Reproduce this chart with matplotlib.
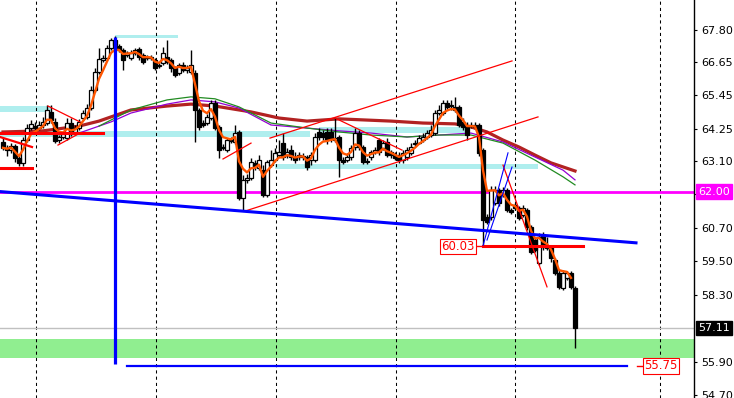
import matplotlib
matplotlib.use('Agg')
import matplotlib.pyplot as plt
import numpy as np
import pandas as pd

# candles (one bar = 4 px)
opens = [63.78, 63.57, 63.49, 63.64, 63.21, 63.03, 63.85, 64.28, 64.35, 64.28,
         64.39, 64.46, 64.86, 64.50, 63.85, 63.96, 63.92, 64.46, 64.14, 64.28,
         64.64, 64.68, 65.00, 65.65, 66.29, 66.72, 66.80, 67.15, 67.44, 67.23,
         67.08, 66.90, 66.80, 66.98, 67.12, 66.90, 66.80, 66.83, 66.72, 66.51,
         66.62, 66.83, 66.72, 66.44, 66.26, 66.54, 66.37, 66.29, 66.26, 64.93,
         64.46, 64.46, 64.64, 65.18, 64.32, 63.60, 63.49, 63.85, 63.78, 64.14,
         61.77, 62.42, 62.49, 63.03, 62.85, 62.77, 61.88, 62.95, 63.13, 63.31,
         63.74, 63.31, 63.49, 63.24, 63.24, 63.24, 63.24, 63.13, 63.13, 64.14,
         64.10, 64.14, 64.14, 63.85, 63.96, 63.13, 63.13, 63.24, 63.60, 64.10,
         63.60, 63.06, 63.24, 63.42, 63.85, 63.57, 63.78, 63.42, 63.31, 63.31,
         63.13, 63.24, 63.39, 63.71, 63.74, 63.85, 63.96, 64.03, 64.10, 64.82,
         64.82, 65.18, 65.07, 65.04, 65.04, 64.50, 64.39, 64.39, 64.39, 64.39,
         63.49, 61.09, 61.09, 61.59, 62.06, 61.88, 62.06, 61.34, 61.52, 61.41,
         61.16, 61.34, 60.73, 60.26, 59.44, 60.44, 60.01, 60.01, 59.54, 59.08,
         58.54, 58.90, 59.08, 58.54]
closes = [63.57, 63.49, 63.64, 63.21, 63.03, 63.85, 64.28, 64.43, 64.28, 64.39,
          64.50, 64.93, 64.57, 63.82, 63.96, 64.07, 64.46, 64.10, 64.28, 64.50,
          64.82, 65.00, 65.65, 66.29, 66.76, 66.80, 67.15, 67.44, 67.26, 67.08,
          66.72, 66.98, 66.98, 67.08, 66.83, 66.65, 66.83, 66.80, 66.44, 66.54,
          66.98, 66.65, 66.44, 66.19, 66.54, 66.37, 66.44, 66.54, 64.93, 64.32,
          64.39, 64.68, 65.18, 64.28, 63.49, 63.57, 63.85, 63.82, 64.10, 61.77,
          62.42, 62.49, 63.06, 62.88, 63.13, 61.88, 63.06, 63.13, 63.39, 63.42,
          63.24, 63.42, 63.24, 63.13, 63.31, 63.28, 62.88, 63.31, 63.96, 63.96,
          63.96, 63.85, 63.92, 63.92, 63.13, 63.06, 63.24, 63.57, 64.10, 63.60,
          63.06, 63.10, 63.42, 63.49, 63.42, 63.74, 63.31, 63.31, 63.21, 63.13,
          63.39, 63.49, 63.60, 63.74, 63.92, 63.96, 64.10, 64.21, 64.82, 64.93,
          65.18, 65.04, 65.04, 64.93, 64.39, 64.32, 64.03, 64.35, 64.32, 63.39,
          60.98, 60.91, 62.06, 62.06, 61.59, 62.06, 61.34, 61.27, 61.41, 61.05,
          61.41, 60.73, 59.83, 59.90, 60.37, 60.01, 59.98, 59.62, 59.08, 58.58,
          59.08, 59.08, 58.58, 57.11]
highs = [63.92, 63.67, 63.74, 63.71, 63.31, 63.96, 64.43, 64.57, 64.50, 64.53,
         64.68, 65.11, 65.11, 64.64, 64.03, 64.18, 64.64, 64.64, 64.39, 64.61,
         64.93, 65.14, 65.79, 66.44, 67.15, 66.90, 67.26, 67.51, 67.59, 67.30,
         67.15, 67.05, 67.08, 67.15, 67.19, 66.98, 66.90, 66.90, 66.80, 66.65,
         67.19, 67.44, 66.80, 66.51, 66.62, 66.65, 66.54, 67.08, 66.37, 65.00,
         64.57, 64.79, 65.29, 65.29, 64.39, 63.71, 63.92, 63.96, 64.39, 64.21,
         62.60, 62.63, 63.21, 63.13, 63.31, 62.95, 63.13, 63.49, 63.57, 63.85,
         64.10, 63.57, 63.67, 63.42, 63.42, 63.39, 63.31, 63.42, 64.10, 64.28,
         64.21, 64.28, 64.28, 64.68, 64.03, 63.24, 63.39, 63.67, 64.28, 64.21,
         63.67, 63.21, 63.49, 63.60, 63.92, 63.85, 63.92, 63.49, 63.42, 63.42,
         63.49, 63.60, 63.74, 63.85, 64.03, 64.10, 64.21, 64.39, 64.93, 65.11,
         65.29, 65.29, 65.29, 65.40, 65.11, 64.64, 64.50, 64.50, 64.50, 64.46,
         63.57, 61.20, 62.20, 62.20, 62.13, 62.17, 62.13, 61.41, 61.59, 61.48,
         61.52, 61.41, 60.80, 60.37, 60.51, 60.55, 60.37, 60.08, 59.62, 59.19,
         59.19, 59.15, 59.15, 58.61]
lows = [63.49, 63.28, 63.39, 63.06, 62.92, 62.92, 63.78, 64.21, 64.18, 64.21,
        64.28, 64.39, 64.46, 63.74, 63.74, 63.89, 63.85, 64.00, 64.03, 64.21,
        64.57, 64.61, 64.93, 65.58, 66.22, 66.65, 66.72, 67.08, 67.19, 67.01,
        66.37, 66.83, 66.72, 66.90, 66.72, 66.58, 66.72, 66.72, 66.37, 66.44,
        66.54, 66.58, 66.29, 66.11, 66.19, 66.29, 66.26, 66.22, 63.78, 64.21,
        64.32, 64.39, 64.57, 64.21, 63.21, 63.49, 63.42, 63.74, 63.71, 61.70,
        61.34, 62.31, 62.42, 62.77, 62.77, 61.81, 61.81, 62.88, 63.06, 63.24,
        63.13, 63.21, 63.13, 63.03, 63.13, 63.13, 62.77, 62.95, 63.06, 63.85,
        63.85, 63.71, 63.78, 63.78, 62.53, 62.99, 63.06, 63.13, 63.49, 63.49,
        62.99, 62.99, 63.13, 63.35, 63.31, 63.49, 63.24, 63.21, 63.13, 63.03,
        63.03, 63.13, 63.31, 63.64, 63.71, 63.78, 63.89, 63.96, 64.03, 64.75,
        64.75, 64.97, 64.93, 64.86, 64.32, 64.21, 63.85, 64.28, 64.25, 63.28,
        60.03, 60.84, 60.98, 61.52, 61.48, 61.81, 61.27, 61.20, 61.34, 60.98,
        61.09, 60.62, 59.76, 59.83, 59.37, 59.90, 59.90, 59.47, 59.01, 58.50,
        58.47, 58.83, 58.50, 56.39]

# moving averages read at some bars (bar index, price)
ma_brown_idx = [0, 10, 19, 24, 32, 41, 47, 53, 62, 69, 76, 84, 97, 105, 113, 117, 121, 125, 129, 133, 137, 143]
ma_brown = [64.14, 64.18, 64.35, 64.53, 64.93, 65.07, 65.14, 65.07, 64.86, 64.64, 64.53,
            64.61, 64.53, 64.46, 64.43, 64.32, 64.14, 63.85, 63.60, 63.31, 63.03, 62.74]
ma_purple_idx = [19, 27, 32, 41, 47, 53, 59, 67, 76, 84, 92, 101, 109, 117, 125, 133, 140, 143]
ma_purple = [64.10, 64.50, 64.82, 65.14, 65.29, 65.22, 65.00, 64.39, 64.28, 64.18, 64.10,
             63.96, 64.03, 64.10, 63.78, 63.24, 62.77, 62.42]
ma_green_idx = [24, 32, 41, 47, 53, 59, 67, 76, 84, 92, 101, 109, 117, 125, 133, 140, 143]
ma_green = [64.35, 64.93, 65.29, 65.40, 65.33, 65.04, 64.46, 64.28, 64.14, 64.03, 63.96,
            64.03, 64.03, 63.74, 63.13, 62.53, 62.24]

# zones: (bar from, bar to, price low, price high)
cyan_zones = [(-0.75, 12.25, 64.86, 65.07),
              (-0.75, 76.75, 63.96, 64.18),
              (79.0, 116.75, 64.10, 64.32),
              (28.0, 43.75, 67.51, 67.62),
              (68.0, 133.75, 62.81, 62.99)]
green_zone = (56.03, 56.71)

# trend lines: (bar1, price1, bar2, price2, width)
red_lines = [(-0.75, 64.10, 25.0, 64.10, 2.2),
             (-0.75, 62.85, 7.25, 62.85, 2.2),
             (-0.75, 63.96, 7.25, 63.60, 1.6),
             (11.25, 65.07, 19.25, 64.50, 0.9),
             (13.75, 63.67, 19.25, 64.10, 0.9),
             (55.0, 63.17, 62.0, 63.74, 0.9),
             (66.75, 63.92, 127.25, 66.69, 0.9),
             (60.5, 61.30, 133.75, 64.68, 0.9),
             (83.0, 64.64, 99.75, 63.49, 0.9),
             (125.0, 62.95, 136.0, 58.58, 0.9),
             (120.0, 60.03, 145.0, 60.03, 2.2)]
blue_lines = [(-0.75, 62.00, 158.25, 60.16, 2.2),
              (31.0, 55.75, 156.0, 55.75, 1.6),
              (120.0, 60.05, 126.25, 63.39, 0.8),
              (121.0, 60.26, 127.25, 62.88, 0.8)]
blue_vline = (28.0, 55.81, 67.55)
day_lines = [8.2, 38.2, 68.2, 98.2, 128.1, 164.2]

price_ticks = [67.80, 66.65, 65.45, 64.25, 63.10, 61.90, 60.70, 59.50, 58.30, 55.90, 54.70]
level_magenta = 62.00
last_price = 57.11
tag_high = 60.03
tag_low = 55.75

fig = plt.figure(figsize=(7.34, 3.98), dpi=100)
ax = fig.add_axes([0, 0, 694 / 734, 1])
ax.set_xlim(-0.75, 172.75)
ax.set_ylim(54.59, 68.877)

for s in ['top', 'left', 'bottom']:
    ax.spines[s].set_visible(False)
ax.spines['right'].set_color('black')
ax.spines['right'].set_linewidth(1)
ax.yaxis.tick_right()
ax.set_yticks(price_ticks)
ax.set_yticklabels(['%.2f' % t for t in price_ticks])
ax.tick_params(axis='y', length=2, width=0.8, pad=3, labelsize=8, colors='black')
ax.set_xticks([])

# zones
ax.axhspan(green_zone[0], green_zone[1], color='#90EE90', lw=0, zorder=1)
for x0, x1, p0, p1 in cyan_zones:
    ax.fill_between([x0, x1], p0, p1, color='#AFEEEE', lw=0, zorder=1)

for d in day_lines:
    ax.axvline(d, color='black', lw=0.75, ls=(0, (3, 3)), zorder=1.5)

ax.axhline(last_price, color='#C0C0C0', lw=1, zorder=1.5)
ax.axhline(level_magenta, color='#FF00FF', lw=2, zorder=2)

# moving averages
ax.plot(ma_brown_idx, ma_brown, color='#B22222', lw=2.3, zorder=2)
ax.plot(ma_purple_idx, ma_purple, color='#9400D3', lw=0.9, zorder=2.1)
ax.plot(ma_green_idx, ma_green, color='#228B22', lw=0.9, zorder=2.1)

# candles
idx = np.arange(len(closes))
o = np.array(opens)
c = np.array(closes)
ax.vlines(idx, lows, highs, color='black', lw=1.0, zorder=3)
up = c >= o
height = np.where(np.abs(c - o) < 0.03, 0.03, c - o)
ax.bar(idx[up], height[up], bottom=o[up], width=0.78, color='white', edgecolor='black', lw=0.9, zorder=3.1)
ax.bar(idx[~up], height[~up], bottom=o[~up], width=0.78, color='black', edgecolor='black', lw=0.9, zorder=3.1)

# fast ema of closes
ema = pd.Series(closes).ewm(span=4, adjust=False).mean()
ax.plot(idx[:-1], ema[:-1], color='#FF5500', lw=1.7, zorder=3.5)

for x0, p0, x1, p1, w in red_lines:
    ax.plot([x0, x1], [p0, p1], color='red', lw=w, zorder=4)
for x0, p0, x1, p1, w in blue_lines:
    ax.plot([x0, x1], [p0, p1], color='blue', lw=w, zorder=4)
ax.vlines(blue_vline[0], blue_vline[1], blue_vline[2], color='blue', lw=2.3, zorder=4)

# price tags
ax.plot([117.5, 120.0], [tag_high, tag_high], color='red', lw=1, zorder=4)
ax.text(113.75, tag_high, '%.2f' % tag_high, color='red', fontsize=8.5, ha='center', va='center', zorder=5,
        bbox=dict(boxstyle='square,pad=0.12', facecolor='white', edgecolor='red', lw=0.8))
ax.plot([158.5, 161.0], [tag_low, tag_low], color='red', lw=1, zorder=4)
ax.text(164.5, tag_low, '%.2f' % tag_low, color='red', fontsize=8.5, ha='center', va='center', zorder=5,
        bbox=dict(boxstyle='square,pad=0.12', facecolor='white', edgecolor='red', lw=0.8))

tr = ax.get_yaxis_transform()
ax.text(1.006, level_magenta, '%.2f' % level_magenta, transform=tr, color='white', fontsize=8,
        ha='left', va='center', clip_on=False, zorder=6,
        bbox=dict(boxstyle='square,pad=0.2', facecolor='#FF00FF', edgecolor='#FF00FF'))
ax.text(1.006, last_price, '%.2f' % last_price, transform=tr, color='white', fontsize=8,
        ha='left', va='center', clip_on=False, zorder=6,
        bbox=dict(boxstyle='square,pad=0.2', facecolor='black', edgecolor='black'))

fig.savefig('out.png', dpi=100)
